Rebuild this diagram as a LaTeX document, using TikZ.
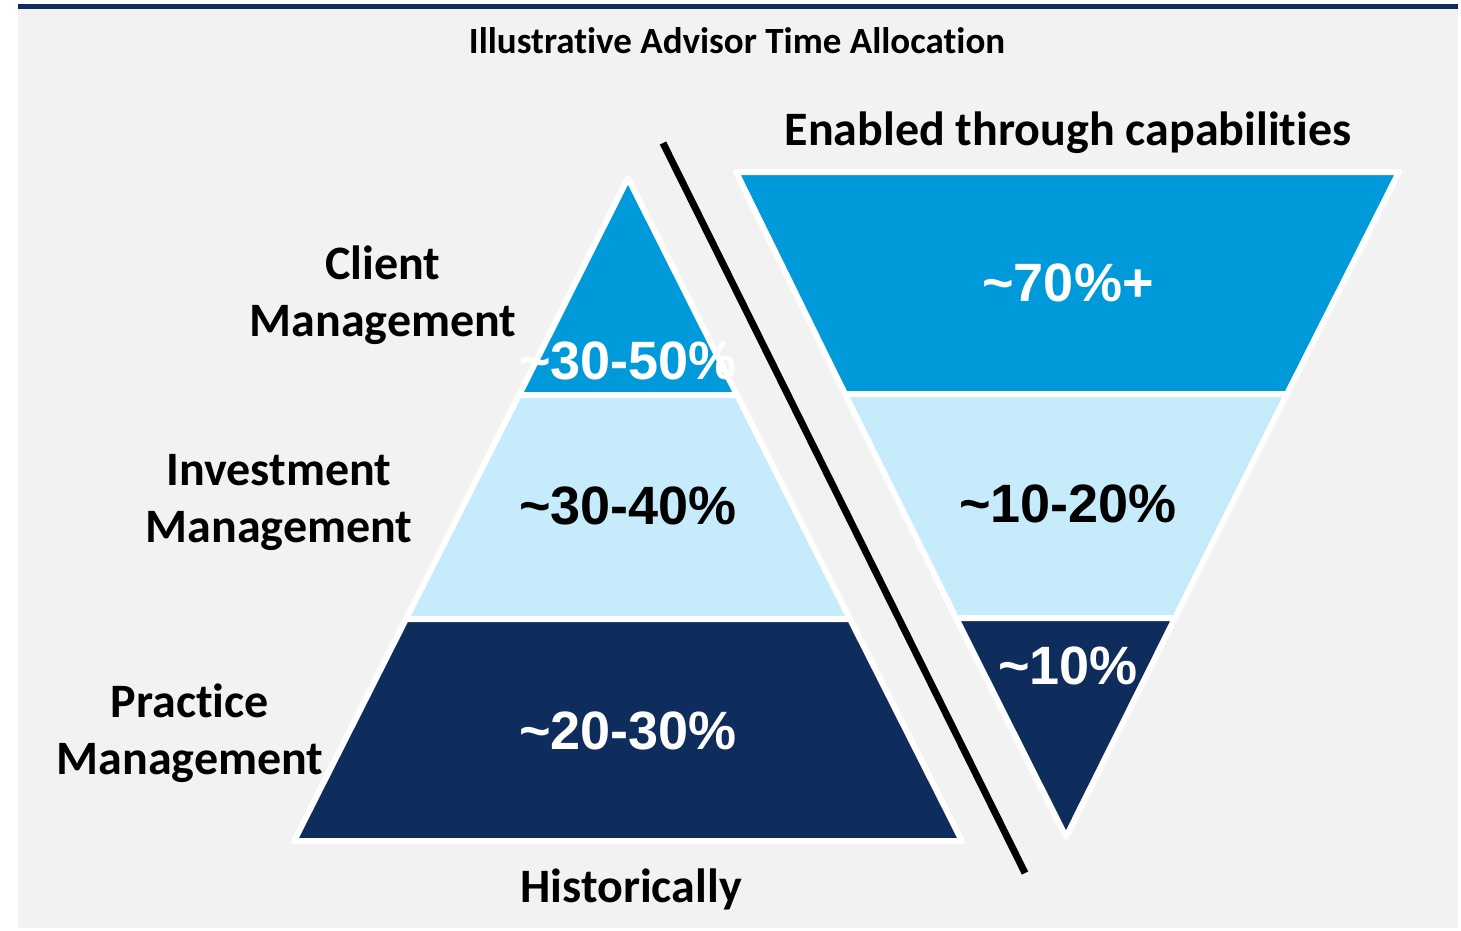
\documentclass[tikz,border=0pt]{standalone}
\usepackage{fontspec}
\setmainfont{Carlito}[RawFeature=-liga]
\newfontfamily\pctfont{Liberation Sans}
\definecolor{bgGray}{HTML}{F2F2F2}
\definecolor{navyBlue}{HTML}{0E2D5C}
\definecolor{midBlue}{HTML}{0099DA}
\definecolor{paleBlue}{HTML}{C6EBFB}
\tikzset{
	band/.style={draw=white,line width=6pt,line join=round},
	sidelabel/.style={align=center,font=\bfseries\fontsize{48}{57}\selectfont,inner sep=0},
	pct/.style={font=\pctfont\bfseries\fontsize{54}{60}\selectfont,inner sep=0},
}
\begin{document}
\begin{tikzpicture}[x=1pt,y=-1pt]
			\useasboundingbox (0,0) rectangle (1461,931);
			\fill[bgGray] (18,9) rectangle (1458,928);
			\fill[navyBlue] (18,4) rectangle (1458,9);
			% historically
			\coordinate (A) at (628,178);
			\coordinate (B1) at (519,395);
			\coordinate (B2) at (737,395);
			\coordinate (C1) at (406,619);
			\coordinate (C2) at (850,619);
			\coordinate (D1) at (294,841);
			\coordinate (D2) at (962,841);
			\draw[band,fill=midBlue] (A) to (B2) to (B1) to cycle;
			\draw[band,fill=paleBlue] (B1) to (B2) to (C2) to (C1) to cycle;
			\draw[band,fill=navyBlue] (C1) to (C2) to (D2) to (D1) to cycle;
			% enabled
			\coordinate (P1) at (736,172);
			\coordinate (P2) at (1399,172);
			\coordinate (Q1) at (845,394);
			\coordinate (Q2) at (1287,394);
			\coordinate (R1) at (956,618);
			\coordinate (R2) at (1175,618);
			\coordinate (S) at (1066,837);
			\draw[band,fill=midBlue] (P1) to (P2) to (Q2) to (Q1) to cycle;
			\draw[band,fill=paleBlue] (Q1) to (Q2) to (R2) to (R1) to cycle;
			\draw[band,fill=navyBlue] (R1) to (R2) to (S) to cycle;
			\coordinate (T1) at (663,143);
			\coordinate (T2) at (1025,873);
			\draw[line width=7pt] (T1) to (T2);
			\node[font=\bfseries\fontsize{37}{44}\selectfont,inner sep=0] (title) at (737,41) {Illustrative Advisor Time Allocation};
			\node[font=\bfseries\fontsize{48}{57}\selectfont,inner sep=0] (enabled) at (1068,133) {Enabled through capabilities};
			\node[font=\bfseries\fontsize{48}{57}\selectfont,inner sep=0] (hist) at (631,889) {Historically};
			\node[sidelabel] (client) at (383,295) {Client\\Management};
			\node[sidelabel] (invest) at (279,502) {Investment\\Management};
			\node[sidelabel] (practice) at (190,733) {Practice\\Management};
			\node[pct,white] (h1) at (628,361) {\textasciitilde30-50\%};
			\node[pct] (h2) at (628,506) {\textasciitilde30-40\%};
			\node[pct,white] (h3) at (628,731) {\textasciitilde20-30\%};
			\node[pct,white] (e1) at (1068,283) {\textasciitilde70\%+};
			\node[pct] (e2) at (1068,504) {\textasciitilde10-20\%};
			\node[pct,white] (e3) at (1068,666) {\textasciitilde10\%};
		\end{tikzpicture}
\end{document}
